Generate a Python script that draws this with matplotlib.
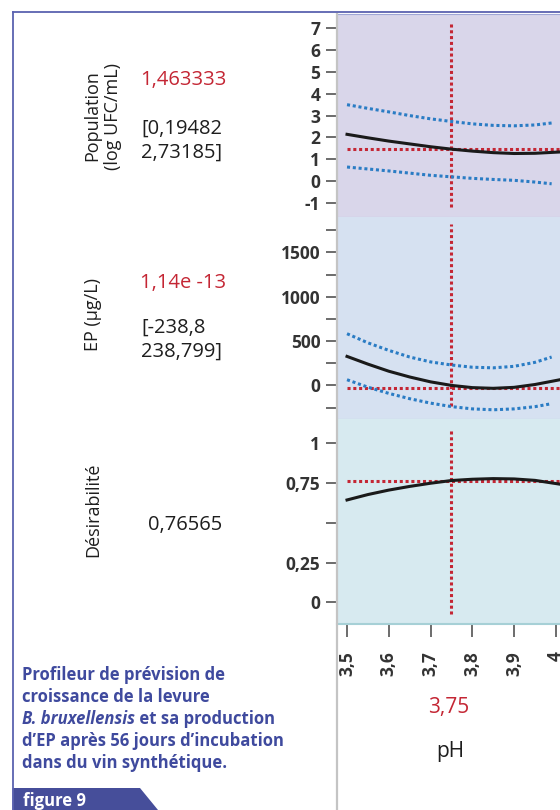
import matplotlib
matplotlib.use("Agg")
import matplotlib.pyplot as plt
from matplotlib.patches import Polygon
from matplotlib.lines import Line2D

plt.rcParams["font.family"] = ["Open Sans", "DejaVu Sans"]
plt.rcParams["axes.unicode_minus"] = False

# ---------- Data ----------
ph = [3.5, 3.55, 3.6, 3.65, 3.7, 3.75, 3.8, 3.85, 3.9, 3.95, 4.01]
ph_ci = [3.5, 3.55, 3.6, 3.65, 3.7, 3.75, 3.8, 3.85, 3.9, 3.95, 3.99]

pop_pred = [2.14, 1.98, 1.83, 1.70, 1.57, 1.46, 1.37, 1.30, 1.26, 1.27, 1.33]
pop_hi = [3.50, 3.33, 3.17, 3.00, 2.85, 2.73, 2.62, 2.55, 2.53, 2.57, 2.66]
pop_lo = [0.64, 0.55, 0.46, 0.36, 0.26, 0.19, 0.12, 0.07, 0.03, -0.05, -0.13]

ep_pred = [327, 240, 160, 95, 40, 0, -25, -33, -22, 10, 64]
ep_hi = [583, 480, 395, 320, 265, 230, 205, 198, 215, 260, 320]
ep_lo = [64, -20, -90, -150, -200, -239, -265, -275, -265, -240, -206]

des_pred = [0.643, 0.677, 0.705, 0.728, 0.748, 0.765, 0.773, 0.777, 0.775, 0.766, 0.742]

ph_current = 3.75
pop_current = 1.46
ep_current = -25
des_current = 0.765

xticks = [3.5, 3.6, 3.7, 3.8, 3.9, 4.0]
xtick_labels = ["3,5", "3,6", "3,7", "3,8", "3,9", "4"]

pop_ticks = [-1, 0, 1, 2, 3, 4, 5, 6, 7]
ep_ticks = [0, 500, 1000, 1500]
ep_minor = [-250, 250, 750, 1250, 1750]
des_ticks = [0, 0.25, 0.5, 0.75, 1]
des_labels = ["0", "0,25", "", "0,75", "1"]

# ---------- Styles ----------
W, H = 560, 810
RED = "#c42634"
BLUE = "#2a7cc4"
NAVY = "#3f4a9e"
FRAME = "#5a62b0"
TICK_TXT = "#333333"
TXT = "#1e1e1e"

fig = plt.figure(figsize=(W / 100, H / 100), dpi=100)


def px_axes(x0, y0, x1, y1):
    return fig.add_axes([x0 / W, 1 - y1 / H, (x1 - x0) / W, (y1 - y0) / H])


def fx(x):
    return x / W


def fy(y):
    return 1 - y / H


def style_panel(ax, bg, ylim):
    ax.set_facecolor(bg)
    ax.set_xlim(3.476, 4.01)
    ax.set_ylim(*ylim)
    ax.spines["right"].set_visible(False)
    ax.spines["left"].set_visible(False)
    ax.tick_params(axis="y", which="both", direction="out", length=8, width=1.1,
                   color="#444444", labelsize=12.5, labelcolor=TICK_TXT, pad=4)
    for lab in ax.get_yticklabels():
        lab.set_fontweight("bold")


def draw_cross(ax, yval, vlo, vhi):
    ax.plot([3.5, 4.01], [yval, yval], color=RED, lw=2.2, ls=(0, (1, 0.9)), zorder=2)
    ax.plot([ph_current, ph_current], [vlo, vhi], color=RED, lw=2.2, ls=(0, (1, 0.9)), zorder=2)


# Panel 1: population
ax1 = px_axes(337, 14, 560, 216.5)
ax1.plot(ph_ci, pop_hi, color=BLUE, lw=2.2, ls=(0, (1, 0.9)), zorder=3)
ax1.plot(ph_ci, pop_lo, color=BLUE, lw=2.2, ls=(0, (1, 0.9)), zorder=3)
ax1.plot(ph, pop_pred, color="#1a1a1a", lw=2.2, zorder=4)
draw_cross(ax1, pop_current, -1.2, 7.26)
ax1.set_yticks(pop_ticks)
ax1.set_xticks([])
style_panel(ax1, "#d9d6ea", (-1.63, 7.66))
ax1.spines["top"].set_color("#9fa6d6")
ax1.spines["bottom"].set_color("#aebde0")

# Panel 2: EP
ax2 = px_axes(337, 216.5, 560, 419)
ax2.plot(ph_ci, ep_hi, color=BLUE, lw=2.2, ls=(0, (1, 0.9)), zorder=3)
ax2.plot(ph_ci, ep_lo, color=BLUE, lw=2.2, ls=(0, (1, 0.9)), zorder=3)
ax2.plot(ph, ep_pred, color="#1a1a1a", lw=2.2, zorder=4)
draw_cross(ax2, ep_current, -237, 1815)
ax2.set_yticks(ep_ticks)
ax2.set_yticks(ep_minor, minor=True)
ax2.set_xticks([])
style_panel(ax2, "#d6e1f1", (-379, 1905))
ax2.spines["top"].set_visible(False)
ax2.spines["bottom"].set_color("#a6d0d6")

# Panel 3: désirabilité
ax3 = px_axes(337, 419, 560, 623.5)
ax3.plot(ph, des_pred, color="#1a1a1a", lw=2.2, zorder=4)
draw_cross(ax3, des_current, -0.07, 1.09)
ax3.set_yticks(des_ticks)
ax3.set_yticklabels(des_labels)
style_panel(ax3, "#d7eaf0", (-0.132, 1.151))
ax3.spines["top"].set_visible(False)
ax3.spines["bottom"].set_color("#a6d0d6")
ax3.spines["bottom"].set_linewidth(1.5)
ax3.set_xticks(xticks)
ax3.set_xticklabels(xtick_labels, rotation=90)
ax3.tick_params(axis="x", direction="out", length=9, width=1.1, color="#444444",
                labelsize=12.5, labelcolor=TICK_TXT, pad=11)
for lab in ax3.get_xticklabels():
    lab.set_fontweight("bold")
    lab.set_va("top")

# gray vertical axis line running down the page
fig.add_artist(Line2D([fx(337), fx(337)], [fy(14), 0], color="#c4c4c4", lw=1.6))

# blue frame
fig.add_artist(Line2D([fx(12.5), 1], [fy(11.5), fy(11.5)], color=FRAME, lw=1.3))
fig.add_artist(Line2D([fx(12.5), fx(12.5)], [fy(11.5), 0], color=FRAME, lw=1.3))

# left-hand response labels
fig.text(fx(103), fy(116), "Population\n(log UFC/mL)", rotation=90, ha="center", va="center",
         fontsize=13, color=TXT, linespacing=1.2, multialignment="center")
fig.text(fx(140), fy(80), "1,463333", color=RED, fontsize=14.5, va="center")
fig.text(fx(141), fy(141), "[0,19482\n2,73185]", color=TXT, fontsize=14.5,
         va="center", linespacing=1.25)

fig.text(fx(93), fy(315), "EP (µg/L)", rotation=90, ha="center", va="center",
         fontsize=13, color=TXT)
fig.text(fx(140), fy(283), "1,14e -13", color=RED, fontsize=14.5, va="center")
fig.text(fx(141), fy(340), "[-238,8\n238,799]", color=TXT, fontsize=14.5,
         va="center", linespacing=1.25)

fig.text(fx(93), fy(510), "Désirabilité", rotation=90, ha="center", va="center",
         fontsize=13, color=TXT)
fig.text(fx(148), fy(525), "0,76565", color=TXT, fontsize=14.5, va="center")

# x factor value and name
fig.text(fx(449), fy(707), "3,75", color=RED, fontsize=15, ha="center", va="center")
fig.text(fx(450), fy(752), "pH", color=TXT, fontsize=15, ha="center", va="center")

# caption
cap_x = fx(22)
cap_kw = dict(color=NAVY, fontsize=12, fontweight="bold", va="center")
fig.text(cap_x, fy(675), "Profileur de prévision de", **cap_kw)
fig.text(cap_x, fy(697), "croissance de la levure", **cap_kw)
it = fig.text(cap_x, fy(719), "B. bruxellensis", style="italic", **cap_kw)
fig.text(cap_x, fy(741), "d’EP après 56 jours d’incubation", **cap_kw)
fig.text(cap_x, fy(763), "dans du vin synthétique.", **cap_kw)
fig.canvas.draw()
bb = it.get_window_extent(renderer=fig.canvas.get_renderer())
fig.text(bb.x1 / W, fy(719), " et sa production", **cap_kw)

# "figure 9" tab
tab = Polygon([(fx(12.5), fy(788)), (fx(140), fy(788)), (fx(158), 0), (fx(12.5), 0)],
              closed=True, transform=fig.transFigure, facecolor="#464e9a", edgecolor="none")
fig.add_artist(tab)
fig.text(fx(23), fy(801), "figure 9", color="white", fontsize=12, fontweight="bold", va="center")

fig.savefig("out.png", dpi=100)
